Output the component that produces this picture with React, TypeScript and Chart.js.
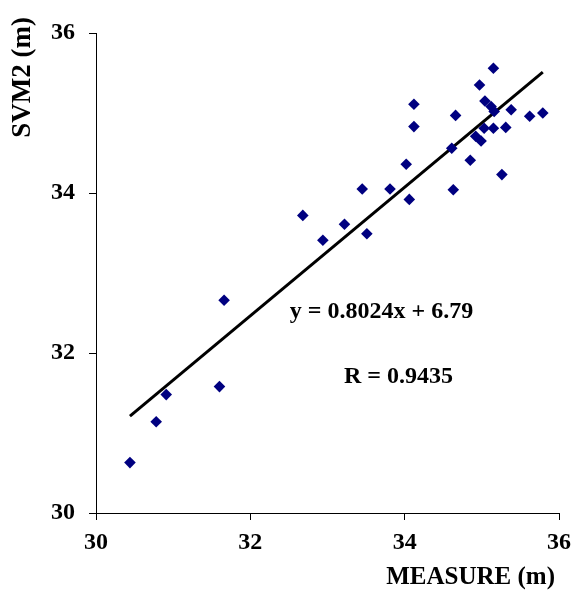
import React, { useEffect, useRef } from "react";
import { Chart, registerables } from "chart.js";

Chart.register(...registerables);

const measureX = [
  30.44, 30.78, 30.91, 31.6, 31.66, 32.68, 32.94, 33.22, 33.45, 33.51, 33.81,
  34.02, 34.06, 34.12, 34.12, 34.61, 34.63, 34.66, 34.85, 34.92, 34.99, 34.97,
  35.15, 35.04, 35.12, 35.16, 35.03, 35.15, 35.31, 35.26, 35.38, 35.62, 35.79,
];
const svm2Y = [
  30.63, 31.14, 31.48, 31.58, 32.66, 33.72, 33.41, 33.61, 34.05, 33.49, 34.05,
  34.36, 33.92, 35.11, 34.83, 34.56, 34.04, 34.97, 34.41, 34.71, 34.65, 35.35,
  35.56, 35.15, 35.08, 35.02, 34.81, 34.81, 34.82, 34.23, 35.04, 34.96, 35.0,
];
const trendX = [30.44, 35.79];
const trendY = [31.21, 35.51];
const axisTicks = [30, 32, 34, 36];
const xTitle = "MEASURE (m)";
const yTitle = "SVM2 (m)";
const equationText = "y = 0.8024x + 6.79";
const rText = "R = 0.9435";

const FONT = "'Liberation Serif', 'Times New Roman', serif";

const textPlugin = {
  id: "texts",
  afterDraw(chart: any) {
    const ctx = chart.ctx;
    const xs = chart.scales.x;
    const ys = chart.scales.y;
    ctx.save();
    ctx.fillStyle = "#000";
    ctx.textBaseline = "middle";
    ctx.font = `bold 24px ${FONT}`;
    ctx.textAlign = "center";
    ctx.fillText(equationText, xs.getPixelForValue(33.7), ys.getPixelForValue(32.51));
    ctx.fillText(rText, xs.getPixelForValue(33.92), ys.getPixelForValue(31.7));
    ctx.font = `bold 25px ${FONT}`;
    ctx.textAlign = "right";
    ctx.fillText(xTitle, 555, 578);
    ctx.font = `bold 27px ${FONT}`;
    ctx.translate(23, 17);
    ctx.rotate(-Math.PI / 2);
    ctx.textAlign = "right";
    ctx.fillText(yTitle, 0, 0);
    ctx.restore();
  },
};

export default function App() {
  const ref = useRef<HTMLCanvasElement>(null);
  useEffect(() => {
    document.body.style.margin = "0";
    const scatter = measureX.map((x, i) => ({ x, y: svm2Y[i] }));
    const trend = trendX.map((x, i) => ({ x, y: trendY[i] }));
    const tickFont = { family: FONT, size: 24, weight: "bold" as const };
    const chart = new Chart(ref.current!, {
      type: "scatter",
      data: {
        datasets: [
          {
            data: trend,
            showLine: true,
            borderColor: "#000",
            borderWidth: 3,
            pointRadius: 0,
            fill: false,
            order: 2,
          },
          {
            data: scatter,
            pointStyle: "rectRot",
            pointRadius: 5.8,
            backgroundColor: "#000080",
            borderColor: "#000080",
            borderWidth: 0,
            order: 1,
          },
        ],
      },
      options: {
        animation: false,
        responsive: false,
        devicePixelRatio: 1,
        layout: { padding: { left: 0, top: 33, right: 26, bottom: 0 } },
        plugins: { legend: { display: false }, tooltip: { enabled: false } },
        scales: {
          x: {
            type: "linear",
            min: 30,
            max: 36,
            afterBuildTicks: (s: any) => {
              s.ticks = axisTicks.map((v) => ({ value: v }));
            },
            afterFit: (s: any) => {
              s.height = 86;
            },
            grid: {
              drawOnChartArea: false,
              drawTicks: true,
              tickLength: 7,
              color: "#000",
            },
            border: { display: true, color: "#000", width: 1 },
            ticks: { color: "#000", font: tickFont, padding: 8, maxRotation: 0 },
          },
          y: {
            type: "linear",
            min: 30,
            max: 36,
            afterBuildTicks: (s: any) => {
              s.ticks = axisTicks.map((v) => ({ value: v }));
            },
            afterFit: (s: any) => {
              s.width = 96;
            },
            grid: {
              drawOnChartArea: false,
              drawTicks: true,
              tickLength: 7,
              color: "#000",
            },
            border: { display: true, color: "#000", width: 1 },
            ticks: { color: "#000", font: tickFont, padding: 14 },
          },
        },
      },
      plugins: [textPlugin],
    });
    return () => chart.destroy();
  }, []);
  return (
    <div style={{ width: 585, height: 599 }}>
      <canvas ref={ref} width={585} height={599} style={{ display: "block" }} />
    </div>
  );
}
